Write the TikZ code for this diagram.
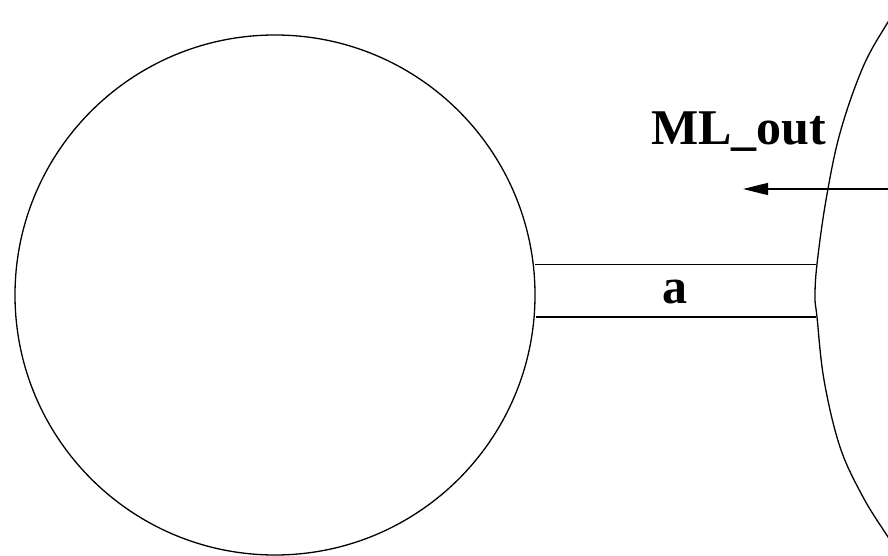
\documentclass[tikz,border=0pt]{standalone}
\usepackage{fontspec}
\setmainfont{Liberation Serif}
\usetikzlibrary{arrows.meta}
\tikzset{
  line/.style={line width=1.3pt, black},
  lbl/.style={font=\fontsize{50}{60}\selectfont\bfseries, inner sep=0pt},
  flowarrow/.style={line width=1.3pt, -{Triangle[length=25pt, width=12pt]}}
}
\begin{document}
\begin{tikzpicture}[x=1pt, y=-1pt]
  \useasboundingbox (0,0) rectangle (888,556);
  \clip (0,0) rectangle (888,556);
  % left body
  \node[circle, draw, line, minimum size=520pt, inner sep=0pt] (cell) at (275,295) {};
  % neck
  \coordinate (nt1) at (535,264.5);
  \coordinate (nt2) at (816,264.5);
  \coordinate (nb1) at (536,317);
  \coordinate (nb2) at (816,317);
  \draw[line] (nt1) -- (nt2);
  \draw[line] (nb1) -- (nb2);
  \node[lbl, anchor=base] (a) at (675,303) {a};
  % right body (partial)
  \draw[line] plot[smooth, tension=0.6] coordinates {
    (915,-20) (888,22) (863,67) (840,133) (826,200) (817,264) (815,297)
    (817,317) (824,380) (840,447) (863,497) (888,537) (915,578)};
  % flow
  \coordinate (fs) at (888,189);
  \coordinate (fe) at (743,189);
  \draw[flowarrow] (fs) -- (fe);
  \node[lbl, anchor=base west] (ml) at (651,145) {ML\_out};
\end{tikzpicture}
\end{document}
